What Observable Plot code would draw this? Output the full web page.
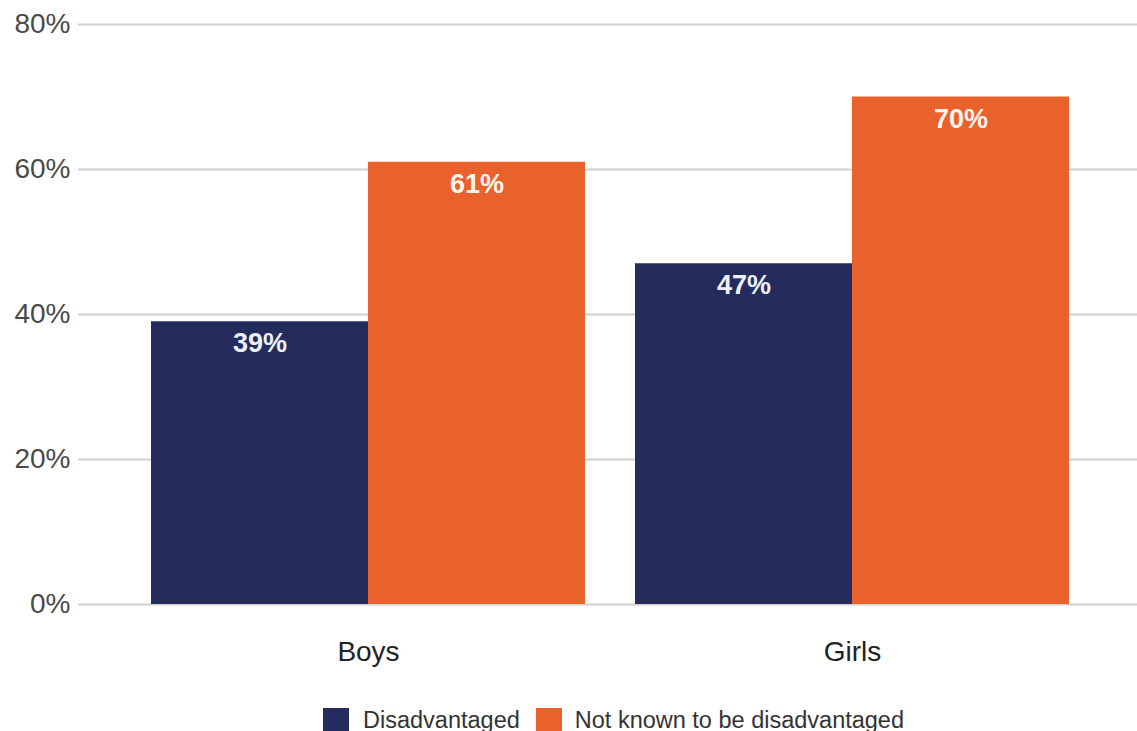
<!DOCTYPE html>
<html>
<head>
<meta charset="utf-8">
<script src="https://cdn.jsdelivr.net/npm/d3@7"></script>
<script src="https://cdn.jsdelivr.net/npm/@observablehq/plot@0.6"></script>
<style>
  html, body { margin: 0; padding: 0; background: #fff; }
  body { width: 1137px; height: 731px; overflow: hidden; font-family: "Liberation Sans", Arial, sans-serif; }
  #legend { display: flex; align-items: center; margin-top: 8px; padding-left: 323px; font-size: 23.5px; color: #333; height: 24px; }
  .sw { width: 26px; height: 24px; display: inline-block; margin-right: 14px; }
  .item { display: flex; align-items: center; margin-right: 16px; }
</style>
</head>
<body>
<div id="chart"></div>
<div id="legend"></div>
<script>
const categories = ["Boys", "Girls"];
const series = ["Disadvantaged", "Not known to be disadvantaged"];
const disadvantaged = [39, 47];
const notKnown = [61, 70];
const yTicks = [0, 20, 40, 60, 80];
const colors = ["#232c5c", "#e9622c"];

const data = categories.flatMap((c, i) => [
  {category: c, series: series[0], value: disadvantaged[i]},
  {category: c, series: series[1], value: notKnown[i]}
]);
const half = 217;

const chart = Plot.plot({
  width: 1137,
  height: 700,
  marginLeft: 78,
  marginRight: 0,
  marginTop: 24,
  marginBottom: 96,
  style: {fontFamily: "'Liberation Sans', Arial, sans-serif", background: "#fff"},
  x: {domain: categories, range: [151, 1069], paddingInner: 50 / 484, paddingOuter: 0, label: null},
  y: {domain: [0, 80], label: null},
  color: {domain: series, range: colors},
  marks: [
    Plot.ruleY(yTicks, {stroke: "#cfcfcf", strokeWidth: 2}),
    Plot.axisY({ticks: yTicks, tickSize: 0, tickPadding: 8, tickFormat: d => d + "%", fontSize: 28, fill: "#4a4a4a", label: null}),
    Plot.axisX({tickSize: 0, tickPadding: 37, fontSize: 28, fill: "#222", label: null}),
    Plot.barY(data.filter(d => d.series === series[0]), {x: "category", y: "value", fill: "series", insetRight: half}),
    Plot.barY(data.filter(d => d.series === series[1]), {x: "category", y: "value", fill: "series", insetLeft: half}),
    Plot.text(data.filter(d => d.series === series[0]), {x: "category", y: "value", text: d => d.value + "%", dx: -half / 2, dy: 22, fill: "#eef0f8", fontSize: 27, fontWeight: "bold"}),
    Plot.text(data.filter(d => d.series === series[1]), {x: "category", y: "value", text: d => d.value + "%", dx: half / 2, dy: 22, fill: "#fff4ee", fontSize: 27, fontWeight: "bold"})
  ]
});
document.getElementById("chart").appendChild(chart);

const legend = document.getElementById("legend");
series.forEach((s, i) => {
  const item = document.createElement("div");
  item.className = "item";
  const sw = document.createElement("span");
  sw.className = "sw";
  sw.style.background = colors[i];
  if (i === 1) sw.style.marginRight = "13px";
  const t = document.createElement("span");
  t.textContent = s;
  item.appendChild(sw);
  item.appendChild(t);
  legend.appendChild(item);
});
</script>
</body>
</html>
